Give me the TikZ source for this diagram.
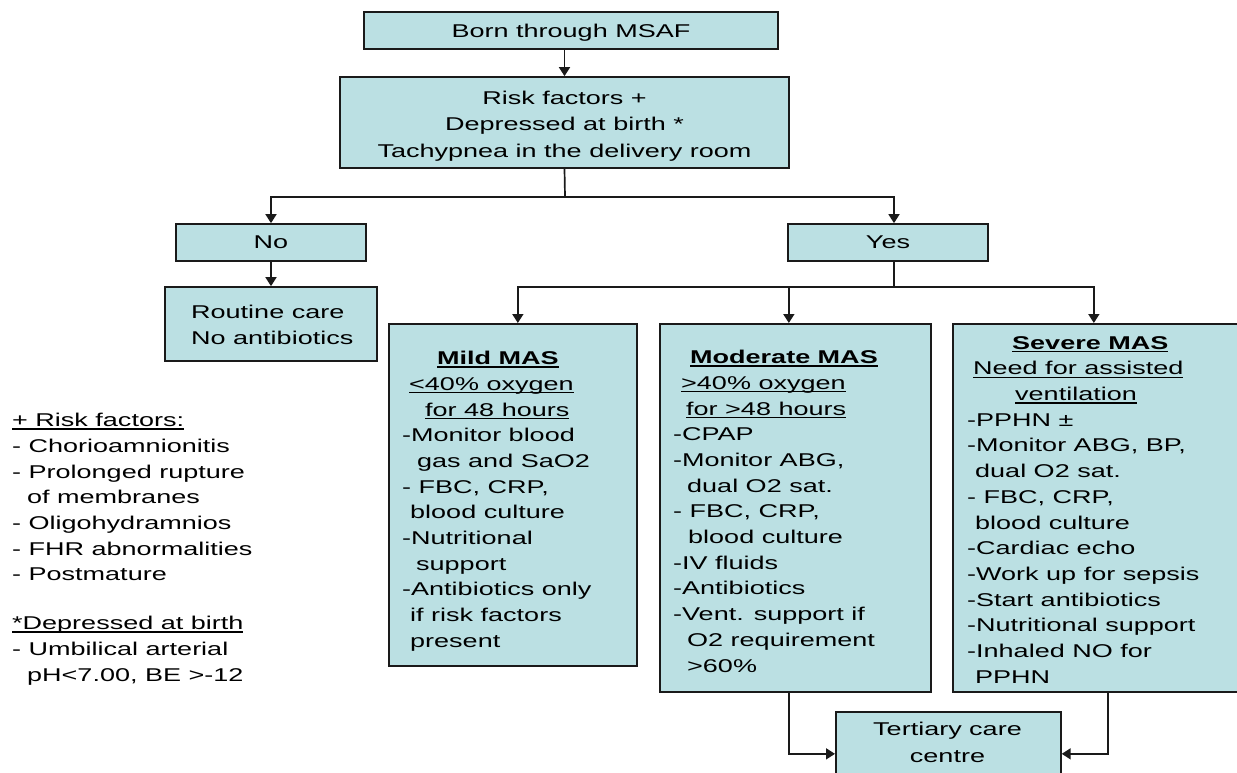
\documentclass[tikz,border=0pt]{standalone}
\usepackage{fontspec}
\setmainfont[FakeStretch=1.46]{Liberation Sans}
\usetikzlibrary{arrows.meta}
\definecolor{boxfill}{HTML}{BBE0E3}
\definecolor{edge}{HTML}{1A1A1A}
\newcommand\ulin[1]{\setbox0\hbox{#1}\rlap{\rule[-3pt]{\wd0}{1.3pt}}\box0}
\begin{document}
\begin{tikzpicture}[x=1pt,y=-1pt,
  box/.style={draw=edge, line width=1.7pt, fill=boxfill, inner sep=0pt},
  conn/.style={line width=1.7pt, draw=edge},
  arr/.style={conn, -{Triangle[length=9pt,width=11pt]}},
  txt/.style={font=\fontsize{18.5}{25.7}\selectfont, inner sep=0pt, align=left},
  ctxt/.style={font=\fontsize{18.5}{26.5}\selectfont, align=center, inner sep=0pt},
]
\useasboundingbox (0,0) rectangle (1237,773);

% boxes
\node[box, minimum width=414pt, minimum height=37pt] (born) at (571,30.5) {};
\node[ctxt] (borntxt) at (571,33) {Born through MSAF};
\node[box, minimum width=449pt, minimum height=91pt] (risk) at (564.5,122.5) {};
\node[ctxt] (risktxt) at (564.5,126) {Risk factors +\\ Depressed at birth *\\ Tachypnea in the delivery room};
\node[box, ctxt, minimum width=190pt, minimum height=37pt] (no) at (271,242.5) {No};
\node[box, ctxt, minimum width=200pt, minimum height=37pt] (yes) at (888,242.5) {Yes};
\node[box, minimum width=212pt, minimum height=74pt] (routine) at (271,324) {};
\node[txt, anchor=north west] (routinetxt) at (191,305) {Routine care\\ No antibiotics};

\node[box, anchor=north west, minimum width=248pt, minimum height=342pt] (mild) at (388,323) {};
\node[box, anchor=north west, minimum width=271pt, minimum height=368pt] (moderate) at (659,323) {};
\node[box, anchor=north west, minimum width=290pt, minimum height=368pt] (severe) at (952,323) {};
\node[box, anchor=north west, minimum width=225pt, minimum height=70pt] (tertiary) at (835,711) {};
\node[ctxt, anchor=north] (tertiarytxt) at (947.5,722) {Tertiary care\\ centre};

% box texts
\node[txt, anchor=north west] (mildtxt) at (402,351) {%
\hspace*{35pt}\ulin{\bfseries Mild MAS}\\
\hspace*{7pt}\ulin{<40\% oxygen}\\
\hspace*{23pt}\ulin{for 48 hours}\\
-Monitor blood\\
\hspace*{15pt}gas and SaO2\\
- FBC, CRP,\\
\hspace*{8pt}blood culture\\
-Nutritional\\
\hspace*{14pt}support\\
-Antibiotics only\\
\hspace*{8pt}if risk factors\\
\hspace*{8pt}present};

\node[txt, anchor=north west] (moderatetxt) at (673,350) {%
\hspace*{17pt}\ulin{\bfseries Moderate MAS}\\
\hspace*{8pt}\ulin{>40\% oxygen}\\
\hspace*{13pt}\ulin{for >48 hours}\\
-CPAP\\
-Monitor ABG,\\
\hspace*{14pt}dual O2 sat.\\
- FBC, CRP,\\
\hspace*{15pt}blood culture\\
-IV fluids\\
-Antibiotics\\
-Vent. support if\\
\hspace*{14pt}O2 requirement\\
\hspace*{14pt}>60\%};

\node[txt, anchor=north west] (severetxt) at (967,336) {%
\hspace*{45pt}\ulin{\bfseries Severe MAS}\\
\hspace*{6pt}\ulin{Need for assisted}\\
\hspace*{48pt}\ulin{ventilation}\\
-PPHN ±\\
-Monitor ABG, BP,\\
\hspace*{8pt}dual O2 sat.\\
- FBC, CRP,\\
\hspace*{8pt}blood culture\\
-Cardiac echo\\
-Work up for sepsis\\
-Start antibiotics\\
-Nutritional support\\
-Inhaled NO for\\
\hspace*{8pt}PPHN};

% legend
\node[txt, anchor=north west] (legend1) at (12,413) {%
\ulin{+ Risk factors:}\\
- Chorioamnionitis\\
- Prolonged rupture\\
\hspace*{15pt}of membranes\\
- Oligohydramnios\\
- FHR abnormalities\\
- Postmature};
\node[txt, anchor=north west] (legend2) at (12,616) {%
\ulin{*Depressed at birth}\\
- Umbilical arterial\\
\hspace*{15pt}pH<7.00, BE >-12};

% connectors
\coordinate (split1) at (565,197);
\coordinate (split2) at (894,287);
\draw[arr] (risk.north |- born.south) -- (risk.north);
\draw[conn] (risk.south) -- (split1);
\draw[arr] (split1) -| (no.north);
\draw[arr] (split1) -| ([xshift=6pt]yes.north);
\draw[arr] (no.south) -- (routine.north);
\draw[conn] ([xshift=6pt]yes.south) -- (split2);
\draw[arr] (split2) -| ([xshift=5pt]mild.north);
\draw[arr] (split2) -| ([xshift=-6.5pt]moderate.north);
\draw[arr] (split2) -| ([xshift=-4pt]severe.north);
\draw[arr] ([xshift=-6.5pt]moderate.south) |- ([yshift=-7pt]tertiary.west);
\draw[arr] ([xshift=10pt]severe.south) |- ([yshift=-7pt]tertiary.east);
\end{tikzpicture}
\end{document}
